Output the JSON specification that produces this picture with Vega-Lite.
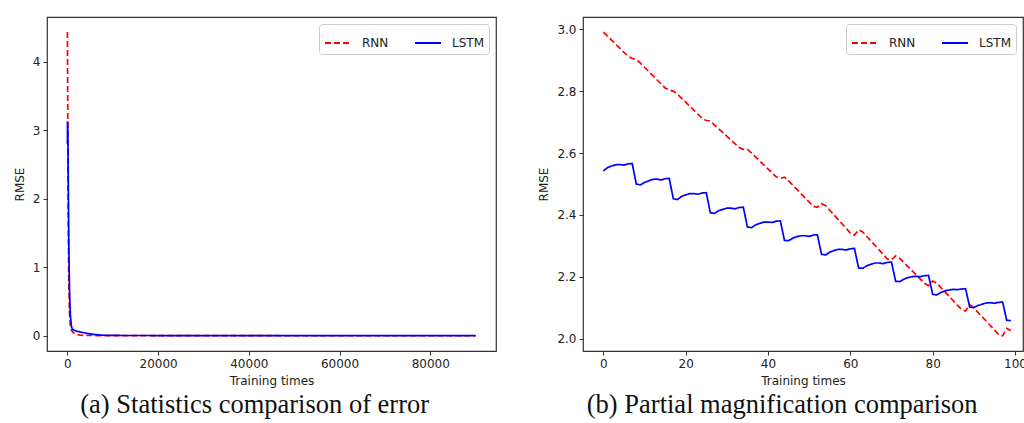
{
  "$schema": "https://vega.github.io/schema/vega-lite/v6.json",
  "background": "white",
  "padding": {"left": 12, "top": 16, "right": 0, "bottom": 0},
  "spacing": 40,
  "datasets": {
    "full": [
      {"t": 0, "rmse": 4.43, "model": "RNN"},
      {"t": 60, "rmse": 3.5, "model": "RNN"},
      {"t": 120, "rmse": 2.5, "model": "RNN"},
      {"t": 200, "rmse": 1.6, "model": "RNN"},
      {"t": 300, "rmse": 0.8, "model": "RNN"},
      {"t": 450, "rmse": 0.35, "model": "RNN"},
      {"t": 650, "rmse": 0.15, "model": "RNN"},
      {"t": 900, "rmse": 0.08, "model": "RNN"},
      {"t": 1300, "rmse": 0.045, "model": "RNN"},
      {"t": 2000, "rmse": 0.02, "model": "RNN"},
      {"t": 3000, "rmse": 0.01, "model": "RNN"},
      {"t": 5000, "rmse": 0.006, "model": "RNN"},
      {"t": 10000, "rmse": 0.004, "model": "RNN"},
      {"t": 30000, "rmse": 0.003, "model": "RNN"},
      {"t": 90000, "rmse": 0.002, "model": "RNN"},
      {"t": 0, "rmse": 2.8, "model": "LSTM"},
      {"t": 30, "rmse": 3.13, "model": "LSTM"},
      {"t": 100, "rmse": 3.0, "model": "LSTM"},
      {"t": 200, "rmse": 2.2, "model": "LSTM"},
      {"t": 300, "rmse": 1.4, "model": "LSTM"},
      {"t": 450, "rmse": 0.7, "model": "LSTM"},
      {"t": 650, "rmse": 0.3, "model": "LSTM"},
      {"t": 900, "rmse": 0.13, "model": "LSTM"},
      {"t": 1200, "rmse": 0.09, "model": "LSTM"},
      {"t": 2000, "rmse": 0.07, "model": "LSTM"},
      {"t": 3000, "rmse": 0.055, "model": "LSTM"},
      {"t": 4500, "rmse": 0.035, "model": "LSTM"},
      {"t": 6000, "rmse": 0.02, "model": "LSTM"},
      {"t": 8000, "rmse": 0.01, "model": "LSTM"},
      {"t": 12000, "rmse": 0.006, "model": "LSTM"},
      {"t": 30000, "rmse": 0.005, "model": "LSTM"},
      {"t": 90000, "rmse": 0.005, "model": "LSTM"}
    ],
    "zoom": [
      {"t": 0, "rmse": 2.99, "model": "RNN"},
      {"t": 6, "rmse": 2.912, "model": "RNN"},
      {"t": 7, "rmse": 2.905, "model": "RNN"},
      {"t": 8, "rmse": 2.902, "model": "RNN"},
      {"t": 9, "rmse": 2.89, "model": "RNN"},
      {"t": 15, "rmse": 2.81, "model": "RNN"},
      {"t": 16, "rmse": 2.803, "model": "RNN"},
      {"t": 17, "rmse": 2.8, "model": "RNN"},
      {"t": 18, "rmse": 2.79, "model": "RNN"},
      {"t": 24, "rmse": 2.712, "model": "RNN"},
      {"t": 25, "rmse": 2.705, "model": "RNN"},
      {"t": 26, "rmse": 2.704, "model": "RNN"},
      {"t": 27, "rmse": 2.69, "model": "RNN"},
      {"t": 33, "rmse": 2.618, "model": "RNN"},
      {"t": 34, "rmse": 2.612, "model": "RNN"},
      {"t": 35, "rmse": 2.612, "model": "RNN"},
      {"t": 36, "rmse": 2.6, "model": "RNN"},
      {"t": 42, "rmse": 2.523, "model": "RNN"},
      {"t": 43, "rmse": 2.518, "model": "RNN"},
      {"t": 44, "rmse": 2.522, "model": "RNN"},
      {"t": 45, "rmse": 2.51, "model": "RNN"},
      {"t": 51, "rmse": 2.428, "model": "RNN"},
      {"t": 52, "rmse": 2.425, "model": "RNN"},
      {"t": 53, "rmse": 2.436, "model": "RNN"},
      {"t": 54, "rmse": 2.43, "model": "RNN"},
      {"t": 60, "rmse": 2.342, "model": "RNN"},
      {"t": 61, "rmse": 2.335, "model": "RNN"},
      {"t": 62, "rmse": 2.352, "model": "RNN"},
      {"t": 63, "rmse": 2.345, "model": "RNN"},
      {"t": 69, "rmse": 2.258, "model": "RNN"},
      {"t": 70, "rmse": 2.255, "model": "RNN"},
      {"t": 71, "rmse": 2.268, "model": "RNN"},
      {"t": 72, "rmse": 2.26, "model": "RNN"},
      {"t": 78, "rmse": 2.18, "model": "RNN"},
      {"t": 79, "rmse": 2.172, "model": "RNN"},
      {"t": 80, "rmse": 2.187, "model": "RNN"},
      {"t": 81, "rmse": 2.18, "model": "RNN"},
      {"t": 87, "rmse": 2.095, "model": "RNN"},
      {"t": 88, "rmse": 2.09, "model": "RNN"},
      {"t": 89, "rmse": 2.11, "model": "RNN"},
      {"t": 90, "rmse": 2.1, "model": "RNN"},
      {"t": 96, "rmse": 2.015, "model": "RNN"},
      {"t": 97, "rmse": 2.01, "model": "RNN"},
      {"t": 98, "rmse": 2.034, "model": "RNN"},
      {"t": 99, "rmse": 2.027, "model": "RNN"},
      {"t": 0, "rmse": 2.542, "model": "LSTM"},
      {"t": 1, "rmse": 2.553, "model": "LSTM"},
      {"t": 2, "rmse": 2.558, "model": "LSTM"},
      {"t": 3, "rmse": 2.562, "model": "LSTM"},
      {"t": 4, "rmse": 2.563, "model": "LSTM"},
      {"t": 5, "rmse": 2.561, "model": "LSTM"},
      {"t": 6, "rmse": 2.565, "model": "LSTM"},
      {"t": 7, "rmse": 2.566, "model": "LSTM"},
      {"t": 8, "rmse": 2.5, "model": "LSTM"},
      {"t": 9, "rmse": 2.497, "model": "LSTM"},
      {"t": 10, "rmse": 2.505, "model": "LSTM"},
      {"t": 11, "rmse": 2.51, "model": "LSTM"},
      {"t": 12, "rmse": 2.515, "model": "LSTM"},
      {"t": 13, "rmse": 2.516, "model": "LSTM"},
      {"t": 14, "rmse": 2.513, "model": "LSTM"},
      {"t": 15, "rmse": 2.517, "model": "LSTM"},
      {"t": 16, "rmse": 2.518, "model": "LSTM"},
      {"t": 17, "rmse": 2.452, "model": "LSTM"},
      {"t": 18, "rmse": 2.45, "model": "LSTM"},
      {"t": 19, "rmse": 2.46, "model": "LSTM"},
      {"t": 20, "rmse": 2.465, "model": "LSTM"},
      {"t": 21, "rmse": 2.469, "model": "LSTM"},
      {"t": 22, "rmse": 2.469, "model": "LSTM"},
      {"t": 23, "rmse": 2.467, "model": "LSTM"},
      {"t": 24, "rmse": 2.471, "model": "LSTM"},
      {"t": 25, "rmse": 2.472, "model": "LSTM"},
      {"t": 26, "rmse": 2.407, "model": "LSTM"},
      {"t": 27, "rmse": 2.405, "model": "LSTM"},
      {"t": 28, "rmse": 2.414, "model": "LSTM"},
      {"t": 29, "rmse": 2.418, "model": "LSTM"},
      {"t": 30, "rmse": 2.422, "model": "LSTM"},
      {"t": 31, "rmse": 2.422, "model": "LSTM"},
      {"t": 32, "rmse": 2.42, "model": "LSTM"},
      {"t": 33, "rmse": 2.424, "model": "LSTM"},
      {"t": 34, "rmse": 2.425, "model": "LSTM"},
      {"t": 35, "rmse": 2.361, "model": "LSTM"},
      {"t": 36, "rmse": 2.359, "model": "LSTM"},
      {"t": 37, "rmse": 2.368, "model": "LSTM"},
      {"t": 38, "rmse": 2.373, "model": "LSTM"},
      {"t": 39, "rmse": 2.377, "model": "LSTM"},
      {"t": 40, "rmse": 2.377, "model": "LSTM"},
      {"t": 41, "rmse": 2.376, "model": "LSTM"},
      {"t": 42, "rmse": 2.38, "model": "LSTM"},
      {"t": 43, "rmse": 2.381, "model": "LSTM"},
      {"t": 44, "rmse": 2.318, "model": "LSTM"},
      {"t": 45, "rmse": 2.317, "model": "LSTM"},
      {"t": 46, "rmse": 2.325, "model": "LSTM"},
      {"t": 47, "rmse": 2.33, "model": "LSTM"},
      {"t": 48, "rmse": 2.333, "model": "LSTM"},
      {"t": 49, "rmse": 2.333, "model": "LSTM"},
      {"t": 50, "rmse": 2.331, "model": "LSTM"},
      {"t": 51, "rmse": 2.335, "model": "LSTM"},
      {"t": 52, "rmse": 2.336, "model": "LSTM"},
      {"t": 53, "rmse": 2.273, "model": "LSTM"},
      {"t": 54, "rmse": 2.271, "model": "LSTM"},
      {"t": 55, "rmse": 2.28, "model": "LSTM"},
      {"t": 56, "rmse": 2.285, "model": "LSTM"},
      {"t": 57, "rmse": 2.289, "model": "LSTM"},
      {"t": 58, "rmse": 2.289, "model": "LSTM"},
      {"t": 59, "rmse": 2.287, "model": "LSTM"},
      {"t": 60, "rmse": 2.291, "model": "LSTM"},
      {"t": 61, "rmse": 2.292, "model": "LSTM"},
      {"t": 62, "rmse": 2.229, "model": "LSTM"},
      {"t": 63, "rmse": 2.228, "model": "LSTM"},
      {"t": 64, "rmse": 2.236, "model": "LSTM"},
      {"t": 65, "rmse": 2.241, "model": "LSTM"},
      {"t": 66, "rmse": 2.245, "model": "LSTM"},
      {"t": 67, "rmse": 2.245, "model": "LSTM"},
      {"t": 68, "rmse": 2.243, "model": "LSTM"},
      {"t": 69, "rmse": 2.247, "model": "LSTM"},
      {"t": 70, "rmse": 2.248, "model": "LSTM"},
      {"t": 71, "rmse": 2.186, "model": "LSTM"},
      {"t": 72, "rmse": 2.185, "model": "LSTM"},
      {"t": 73, "rmse": 2.193, "model": "LSTM"},
      {"t": 74, "rmse": 2.198, "model": "LSTM"},
      {"t": 75, "rmse": 2.201, "model": "LSTM"},
      {"t": 76, "rmse": 2.202, "model": "LSTM"},
      {"t": 77, "rmse": 2.201, "model": "LSTM"},
      {"t": 78, "rmse": 2.204, "model": "LSTM"},
      {"t": 79, "rmse": 2.205, "model": "LSTM"},
      {"t": 80, "rmse": 2.144, "model": "LSTM"},
      {"t": 81, "rmse": 2.142, "model": "LSTM"},
      {"t": 82, "rmse": 2.15, "model": "LSTM"},
      {"t": 83, "rmse": 2.155, "model": "LSTM"},
      {"t": 84, "rmse": 2.158, "model": "LSTM"},
      {"t": 85, "rmse": 2.16, "model": "LSTM"},
      {"t": 86, "rmse": 2.159, "model": "LSTM"},
      {"t": 87, "rmse": 2.161, "model": "LSTM"},
      {"t": 88, "rmse": 2.162, "model": "LSTM"},
      {"t": 89, "rmse": 2.103, "model": "LSTM"},
      {"t": 90, "rmse": 2.101, "model": "LSTM"},
      {"t": 91, "rmse": 2.108, "model": "LSTM"},
      {"t": 92, "rmse": 2.112, "model": "LSTM"},
      {"t": 93, "rmse": 2.116, "model": "LSTM"},
      {"t": 94, "rmse": 2.117, "model": "LSTM"},
      {"t": 95, "rmse": 2.115, "model": "LSTM"},
      {"t": 96, "rmse": 2.118, "model": "LSTM"},
      {"t": 97, "rmse": 2.119, "model": "LSTM"},
      {"t": 98, "rmse": 2.06, "model": "LSTM"},
      {"t": 99, "rmse": 2.059, "model": "LSTM"}
    ]
  },
  "resolve": {"scale": {"color": "independent", "strokeDash": "independent"}},
  "hconcat": [
    {
      "width": 449,
      "height": 334,
      "data": {"name": "full"},
      "title": {"text": "(a) Statistics comparison of error", "orient": "bottom", "frame": "bounds", "anchor": "middle"},
      "mark": {"type": "line", "strokeWidth": 1.7, "clip": true},
      "encoding": {
        "x": {"field": "t", "type": "quantitative", "title": "Training times",
              "scale": {"domain": [-4500, 94500], "nice": false, "zero": false},
              "axis": {"values": [0, 20000, 40000, 60000, 80000], "format": "d"}},
        "y": {"field": "rmse", "type": "quantitative", "title": "RMSE",
              "scale": {"domain": [-0.22, 4.65], "nice": false, "zero": false},
              "axis": {"values": [0, 1, 2, 3, 4], "format": "d"}},
        "color": {"field": "model", "type": "nominal", "sort": ["RNN", "LSTM"],
                  "scale": {"domain": ["RNN", "LSTM"], "range": ["#ff0000", "#0000ff"]},
                  "legend": {"title": null}},
        "strokeDash": {"field": "model", "type": "nominal", "sort": ["RNN", "LSTM"],
                  "scale": {"domain": ["RNN", "LSTM"], "range": [[6, 3], [1, 0]]},
                  "legend": {"title": null}}
      }
    },
    {
      "width": 440,
      "height": 334,
      "data": {"name": "zoom"},
      "title": {"text": "(b) Partial magnification comparison", "orient": "bottom", "frame": "bounds", "anchor": "middle"},
      "mark": {"type": "line", "strokeWidth": 1.7, "clip": true},
      "encoding": {
        "x": {"field": "t", "type": "quantitative", "title": "Training times",
              "scale": {"domain": [-4.95, 101.95], "nice": false, "zero": false},
              "axis": {"values": [0, 20, 40, 60, 80, 100], "format": "d"}},
        "y": {"field": "rmse", "type": "quantitative", "title": "RMSE",
              "scale": {"domain": [1.961, 3.039], "nice": false, "zero": false},
              "axis": {"values": [2.0, 2.2, 2.4, 2.6, 2.8, 3.0], "format": ".1f"}},
        "color": {"field": "model", "type": "nominal", "sort": ["RNN", "LSTM"],
                  "scale": {"domain": ["RNN", "LSTM"], "range": ["#ff0000", "#0000ff"]},
                  "legend": {"title": null}},
        "strokeDash": {"field": "model", "type": "nominal", "sort": ["RNN", "LSTM"],
                  "scale": {"domain": ["RNN", "LSTM"], "range": [[6, 3], [1, 0]]},
                  "legend": {"title": null}}
      }
    }
  ],
  "config": {
    "view": {"stroke": "#333", "strokeWidth": 1.2},
    "axis": {
      "domain": false, "grid": false,
      "labelFont": "DejaVu Sans", "labelFontSize": 12, "labelColor": "#222",
      "titleFont": "DejaVu Sans", "titleFontSize": 12, "titleFontWeight": "normal", "titleColor": "#222",
      "tickColor": "#333", "tickSize": 4, "labelPadding": 3, "titlePadding": 6
    },
    "legend": {
      "orient": "top-right", "direction": "horizontal", "offset": 7, "padding": 5,
      "strokeColor": "#ccc", "fillColor": "white", "cornerRadius": 3,
      "labelFont": "DejaVu Sans", "labelFontSize": 12, "labelColor": "#222",
      "symbolType": "stroke", "symbolSize": 676, "symbolStrokeWidth": 1.8,
      "columnPadding": 22, "labelOffset": 10
    },
    "title": {"font": "Liberation Serif", "fontSize": 26.5, "fontWeight": "normal", "color": "#111", "offset": 6}
  }
}
